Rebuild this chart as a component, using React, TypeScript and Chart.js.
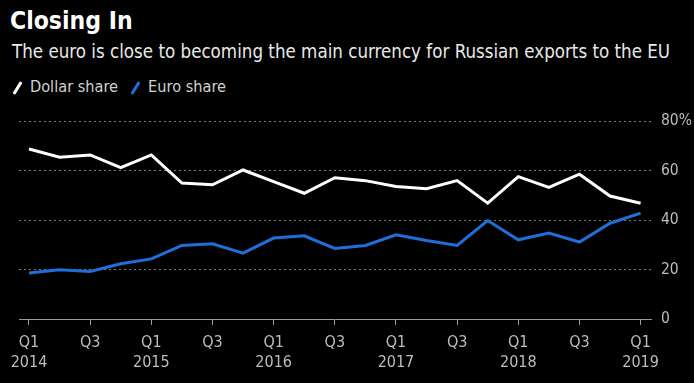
import React, { useEffect, useRef } from 'react';
import { Chart, registerables } from 'chart.js';

Chart.register(...registerables);

const quarters = [
  'Q1 2014', 'Q2 2014', 'Q3 2014', 'Q4 2014',
  'Q1 2015', 'Q2 2015', 'Q3 2015', 'Q4 2015',
  'Q1 2016', 'Q2 2016', 'Q3 2016', 'Q4 2016',
  'Q1 2017', 'Q2 2017', 'Q3 2017', 'Q4 2017',
  'Q1 2018', 'Q2 2018', 'Q3 2018', 'Q4 2018',
  'Q1 2019',
];
const dollarShare = [
  68.7, 65.4, 66.3, 61.2, 66.3, 54.9, 54.2, 60.2, 55.5, 50.8,
  57.1, 55.9, 53.5, 52.6, 55.9, 46.8, 57.5, 53.2, 58.5, 49.7, 46.8,
];
const euroShare = [
  18.6, 19.9, 19.2, 22.3, 24.3, 29.7, 30.4, 26.6, 32.7, 33.6,
  28.5, 29.7, 34.0, 31.7, 29.7, 39.8, 32.0, 34.7, 31.1, 38.7, 42.8,
];
const yTicks = [0, 20, 40, 60, 80];

const FONT = '"DejaVu Sans Condensed", "DejaVu Sans", sans-serif';
const BLUE = '#1f6fd8';

export default function App() {
  const ref = useRef<HTMLCanvasElement>(null);

  useEffect(() => {
    document.body.style.margin = '0';
    document.body.style.background = '#000';
    const chart = new Chart(ref.current!, {
      type: 'line',
      data: {
        datasets: [
          {
            label: 'Dollar share',
            data: dollarShare.map((v, i) => ({ x: i, y: v })),
            borderColor: '#ffffff',
            borderWidth: 3,
            pointRadius: 0,
            tension: 0,
          },
          {
            label: 'Euro share',
            data: euroShare.map((v, i) => ({ x: i, y: v })),
            borderColor: BLUE,
            borderWidth: 3,
            pointRadius: 0,
            tension: 0,
          },
        ],
      },
      options: {
        animation: false,
        responsive: false,
        layout: { padding: { top: 121, left: 19, right: 0, bottom: 0 } },
        plugins: { legend: { display: false }, tooltip: { enabled: false } },
        scales: {
          x: {
            type: 'linear',
            min: -0.327,
            max: 20.34,
            afterBuildTicks: (s: any) => {
              s.ticks = quarters
                .map((_, i) => i)
                .filter((i) => i % 2 === 0)
                .map((v) => ({ value: v }));
            },
            afterFit: (s: any) => {
              s.height = 64;
            },
            ticks: {
              autoSkip: false,
              maxRotation: 0,
              padding: 8,
              color: '#bdbdbd',
              font: { family: FONT, size: 16, lineHeight: 1.25 },
              callback: (v: any) => {
                const q = quarters[Math.round(v)] || '';
                const [qq, yy] = q.split(' ');
                return qq === 'Q1' ? [qq, yy] : qq;
              },
            },
            grid: {
              drawOnChartArea: false,
              color: '#9a9a9a',
              tickLength: 6,
              lineWidth: 1,
            },
            border: { display: true, color: '#9a9a9a', width: 1 },
          },
          y: {
            position: 'right',
            min: 0,
            max: 80,
            afterBuildTicks: (s: any) => {
              s.ticks = yTicks.map((v) => ({ value: v }));
            },
            afterFit: (s: any) => {
              s.width = 43;
            },
            ticks: {
              padding: 10,
              color: '#bdbdbd',
              font: { family: FONT, size: 15.5 },
              callback: (v: any) => (v === 80 ? '80%' : String(v)),
            },
            grid: {
              drawTicks: false,
              lineWidth: 1,
              color: (ctx: any) => (ctx.tick && ctx.tick.value === 0 ? 'rgba(0,0,0,0)' : '#7a7a7a'),
            },
            border: { display: false, dash: [2, 3] },
          },
        },
      },
    } as any);
    return () => chart.destroy();
  }, []);

  const legendIcon = (color: string) => (
    <span
      style={{
        display: 'inline-block',
        width: 3,
        height: 14,
        background: color,
        transform: 'rotate(32deg)',
        borderRadius: 1,
        marginLeft: 3,
        marginRight: 11,
        verticalAlign: 'middle',
      }}
    />
  );

  return (
    <div style={{ position: 'relative', width: 694, height: 383, background: '#000', overflow: 'hidden', fontFamily: FONT }}>
      <div style={{ position: 'absolute', left: 10, top: 6, color: '#fff', fontSize: 24.5, fontWeight: 'bold', lineHeight: '30px', whiteSpace: 'nowrap' }}>
        Closing In
      </div>
      <div style={{ position: 'absolute', left: 12, top: 39, color: '#e8e8e8', fontSize: 18.6, lineHeight: '26px', whiteSpace: 'nowrap' }}>
        The euro is close to becoming the main currency for Russian exports to the EU
      </div>
      <div style={{ position: 'absolute', left: 13, top: 76, color: '#d0d0d0', fontSize: 16.2, lineHeight: '22px', whiteSpace: 'nowrap' }}>
        {legendIcon('#ffffff')}
        <span style={{ marginRight: 13 }}>Dollar share</span>
        {legendIcon(BLUE)}
        <span>Euro share</span>
      </div>
      <canvas ref={ref} width={694} height={383} style={{ position: 'absolute', left: 0, top: 0 }} />
    </div>
  );
}
